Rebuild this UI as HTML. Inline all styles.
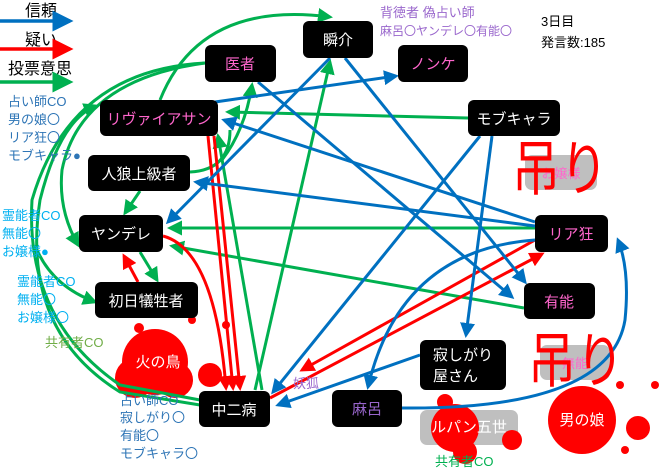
<!DOCTYPE html>
<html><head><meta charset="utf-8"><style>
html,body{margin:0;padding:0;background:#fff}
svg{display:block}
text{font-family:"Liberation Sans","Noto Sans CJK JP",sans-serif}
</style></head><body>
<svg width="660" height="473" viewBox="0 0 660 473" xmlns="http://www.w3.org/2000/svg">
<defs>
<marker id="b" markerWidth="5" markerHeight="5" refX="4" refY="2.5" orient="auto" markerUnits="strokeWidth"><path d="M0,0 L5,2.5 L0,5z" fill="#0070c0"/></marker>
<marker id="r" markerWidth="5" markerHeight="5" refX="4" refY="2.5" orient="auto" markerUnits="strokeWidth"><path d="M0,0 L5,2.5 L0,5z" fill="#ff0000"/></marker>
<marker id="g" markerWidth="5" markerHeight="5" refX="4" refY="2.5" orient="auto" markerUnits="strokeWidth"><path d="M0,0 L5,2.5 L0,5z" fill="#00b050"/></marker>
<marker id="bl" markerWidth="6" markerHeight="6" refX="5" refY="3" orient="auto" markerUnits="strokeWidth"><path d="M0,0 L6,3 L0,6z" fill="#0070c0"/></marker>
<marker id="rl" markerWidth="6" markerHeight="6" refX="5" refY="3" orient="auto" markerUnits="strokeWidth"><path d="M0,0 L6,3 L0,6z" fill="#ff0000"/></marker>
<marker id="gl" markerWidth="6" markerHeight="6" refX="5" refY="3" orient="auto" markerUnits="strokeWidth"><path d="M0,0 L6,3 L0,6z" fill="#00b050"/></marker>
</defs>

<!-- legend -->
<text x="25" y="16" font-size="16">信頼</text>
<line x1="0" y1="21" x2="70" y2="21" stroke="#0070c0" stroke-width="3.5" marker-end="url(#bl)"/>
<text x="25" y="45" font-size="16">疑い</text>
<line x1="0" y1="49" x2="70" y2="49" stroke="#ff0000" stroke-width="3.5" marker-end="url(#rl)"/>
<text x="8" y="74" font-size="16">投票意思</text>
<line x1="0" y1="82" x2="70" y2="82" stroke="#00b050" stroke-width="3.5" marker-end="url(#gl)"/>

<!-- red splatters -->
<g fill="#ff0000">
<circle cx="155" cy="362" r="33"/><circle cx="135" cy="378" r="20"/><circle cx="175" cy="380" r="18"/><circle cx="210" cy="375" r="12"/><circle cx="192" cy="320" r="4"/><circle cx="226" cy="325" r="4"/><circle cx="139" cy="328" r="5"/>
<circle cx="582" cy="420" r="34"/><circle cx="638" cy="428" r="12"/><circle cx="655" cy="385" r="4"/><circle cx="625" cy="450" r="4"/><circle cx="620" cy="385" r="4"/>
</g>
<!-- grey nodes -->
<rect x="525" y="155" width="72" height="35" rx="7" fill="#bfbfbf"/>
<text x="561" y="178" font-size="13" fill="#ff66cc" text-anchor="middle">お嬢様</text>
<rect x="540" y="345" width="70" height="35" rx="7" fill="#bfbfbf"/>
<text x="575" y="368" font-size="13" fill="#ff66cc" text-anchor="middle">無能</text>
<rect x="420" y="410" width="98" height="35" rx="7" fill="#bfbfbf"/>
<g fill="#ff0000"><circle cx="455" cy="428" r="24"/><circle cx="445" cy="402" r="8"/><circle cx="512" cy="440" r="10"/><circle cx="465" cy="452" r="12"/></g>

<!-- green edges -->
<g stroke="#00b050" stroke-width="3" fill="none">
<path d="M160,100 Q200,0 330,17" marker-end="url(#g)"/>
<path d="M468,118 L228,112" marker-end="url(#g)"/>
<path d="M535,228 L170,228" marker-end="url(#g)"/>
<path d="M524,308 L172,246" marker-end="url(#g)"/>
<path d="M140,191 L125,213" marker-end="url(#g)"/>
<path d="M140,252 L157,280" marker-end="url(#g)"/>
<path d="M190,172 Q230,170 230,130" />
<path d="M255,390 L330,62" marker-end="url(#g)"/>
<path d="M262,390 L218,136" marker-end="url(#g)"/>
<path d="M222,160 Q245,130 252,85" marker-end="url(#g)"/>
<path d="M205,63 Q70,70 32,200 Q25,320 120,385 L200,400"/>
<path d="M205,63 Q80,80 62,170 Q58,210 78,245" marker-end="url(#g)"/>
<path d="M200,405 L120,392 Q20,330 40,200 Q60,120 96,106" marker-end="url(#g)"/>
<path d="M35,245 Q50,285 95,302" marker-end="url(#g)"/>
</g>

<!-- red edges -->
<g stroke="#ff0000" stroke-width="3" fill="none">
<path d="M208,136 L233,388" marker-end="url(#r)"/>
<path d="M214,136 L240,388" marker-end="url(#r)"/>
<path d="M163,236 Q215,250 226,388" marker-end="url(#r)"/>
<path d="M138,282 L124,256" marker-end="url(#r)"/>
<path d="M270,398 L542,254" marker-end="url(#r)"/>
<path d="M535,240 L302,370" marker-end="url(#r)"/>
</g>

<!-- blue edges -->
<g stroke="#0070c0" stroke-width="3" fill="none">
<path d="M215,102 L396,76" marker-end="url(#b)"/>
<path d="M535,222 L224,120" marker-end="url(#b)"/>
<path d="M535,226 L196,182" marker-end="url(#b)"/>
<path d="M330,58 L168,222" marker-end="url(#b)"/>
<path d="M258,82 L512,297" marker-end="url(#b)"/>
<path d="M345,58 L525,282" marker-end="url(#b)"/>
<path d="M480,136 L273,392" marker-end="url(#b)"/>
<path d="M492,136 L466,335" marker-end="url(#b)"/>
<path d="M535,240 Q400,250 368,387" marker-end="url(#b)"/>
<path d="M420,355 L278,405" marker-end="url(#b)"/>
<path d="M402,408 Q610,410 625,320 Q630,270 618,240" marker-end="url(#b)"/>
</g>

<!-- black nodes -->
<g fill="#000">
<rect x="303" y="21" width="70" height="37" rx="6"/>
<rect x="205" y="45" width="71" height="37" rx="6"/>
<rect x="398" y="45" width="70" height="37" rx="6"/>
<rect x="100" y="100" width="118" height="36" rx="6"/>
<rect x="468" y="100" width="92" height="36" rx="6"/>
<rect x="88" y="155" width="102" height="36" rx="6"/>
<rect x="79" y="215" width="84" height="37" rx="6"/>
<rect x="535" y="215" width="73" height="37" rx="6"/>
<rect x="95" y="282" width="103" height="36" rx="6"/>
<rect x="524" y="283" width="71" height="36" rx="6"/>
<rect x="420" y="340" width="86" height="50" rx="6"/>
<rect x="199" y="391" width="71" height="36" rx="6"/>
<rect x="332" y="390" width="70" height="37" rx="6"/>
</g>
<g font-size="15" text-anchor="middle">
<text x="338" y="45" fill="#fff">瞬介</text>
<text x="240" y="69" fill="#ff66cc">医者</text>
<text x="433" y="69" fill="#ff66cc">ノンケ</text>
<text x="159" y="124" fill="#ff66cc">リヴァイアサン</text>
<text x="514" y="124" fill="#fff">モブキャラ</text>
<text x="139" y="179" fill="#fff">人狼上級者</text>
<text x="121" y="239" fill="#fff">ヤンデレ</text>
<text x="571" y="239" fill="#ff66cc">リア狂</text>
<text x="146" y="306" fill="#fff">初日犠牲者</text>
<text x="559" y="307" fill="#ff66cc">有能</text>
<text x="158" y="367" fill="#fff">火の鳥</text>
<text x="234" y="415" fill="#fff">中二病</text>
<text x="367" y="414" fill="#9966cc">麻呂</text>
<text x="469" y="432" fill="#fff">ルパン五世</text>
<text x="582" y="425" fill="#fff">男の娘</text>
</g>
<text x="433" y="360" font-size="15" fill="#fff">寂しがり</text>
<text x="433" y="381" font-size="15" fill="#fff">屋さん</text>

<!-- 吊り -->
<text x="512" y="190" font-size="48" fill="#ff0000" transform="translate(512,190) scale(1,1.25) translate(-512,-190)">吊り</text>
<text x="528" y="382" font-size="48" fill="#ff0000" transform="translate(528,382) scale(1,1.25) translate(-528,-382)">吊り</text>

<!-- side labels -->
<g font-size="13" fill="#2e75b6">
<text x="8" y="106">占い師CO</text><text x="8" y="124">男の娘〇</text><text x="8" y="142">リア狂〇</text><text x="8" y="160">モブキャラ●</text>
<text x="120" y="405">占い師CO</text><text x="120" y="422">寂しがり〇</text><text x="120" y="440">有能〇</text><text x="120" y="458">モブキャラ〇</text>
</g>
<g font-size="13" fill="#00b0f0">
<text x="2" y="220">霊能者CO</text><text x="2" y="238">無能〇</text><text x="2" y="256">お嬢様●</text>
<text x="17" y="286">霊能者CO</text><text x="17" y="304">無能〇</text><text x="17" y="322">お嬢様〇</text>
</g>
<text x="45" y="347" font-size="13" fill="#70ad47">共有者CO</text>
<text x="435" y="466" font-size="13" fill="#00b050">共有者CO</text>
<text x="380" y="17" font-size="13" fill="#9966cc">背徳者 偽占い師</text>
<text x="380" y="35" font-size="12" fill="#9966cc">麻呂〇ヤンデレ〇有能〇</text>
<text x="293" y="388" font-size="13" fill="#9966cc">妖狐</text>
<text x="541" y="26" font-size="13" fill="#000">3日目</text>
<text x="541" y="47" font-size="13" fill="#000">発言数:185</text>
</svg>
</body></html>
